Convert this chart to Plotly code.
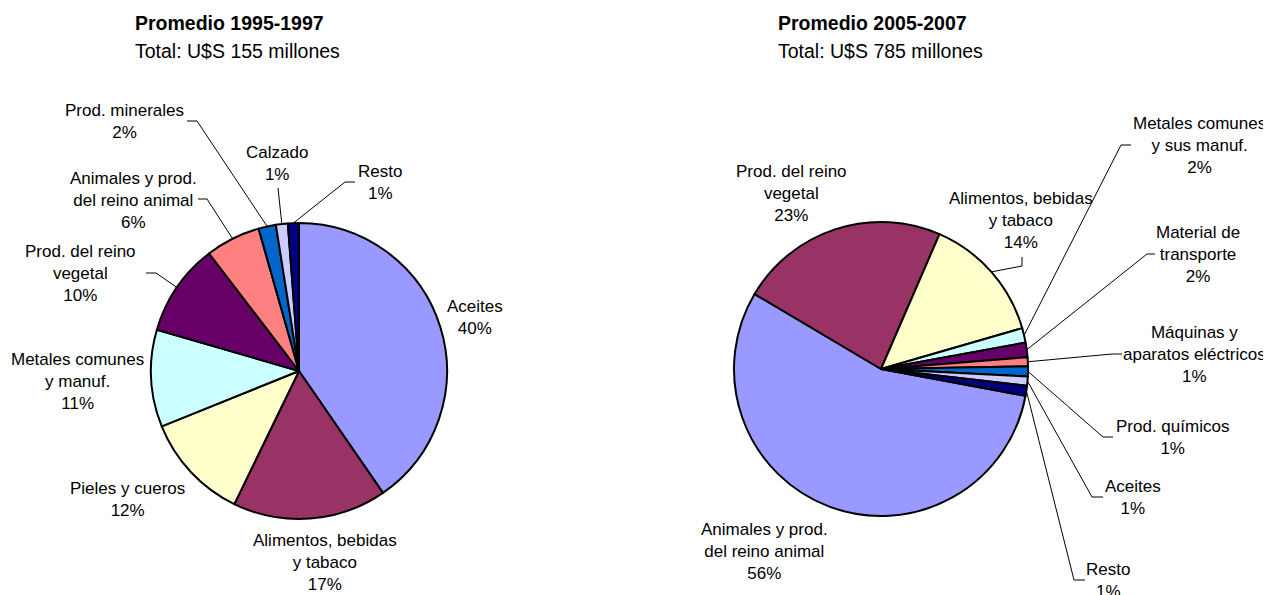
import math
import plotly.graph_objects as go

OFF = 8                      # default page margin of the html body
W, H = 1271 - OFF, 595 - OFF  # figure size in pixels

# ---------------- data ----------------
titles = ["Promedio 1995-1997", "Promedio 2005-2007"]
totals = ["Total: U$S 155 millones", "Total: U$S 785 millones"]

cats_1995 = ["Aceites", "Alimentos, bebidas<br>y tabaco", "Pieles y cueros",
             "Metales comunes<br>y manuf.", "Prod. del reino<br>vegetal",
             "Animales y prod.<br>del reino animal", "Prod. minerales", "Calzado", "Resto"]
vals_1995 = [40.4, 16.8, 11.7, 10.6, 10.1, 6.0, 1.9, 1.3, 1.2]

cats_2005 = ["Animales y prod.<br>del reino animal", "Prod. del reino<br>vegetal",
             "Alimentos, bebidas<br>y tabaco", "Metales comunes<br>y sus manuf.",
             "Material de<br>transporte", "Máquinas y<br>aparatos eléctricos",
             "Prod. químicos", "Aceites", "Resto"]
vals_2005 = [55.6, 23.0, 14.0, 1.6, 1.6, 1.0, 1.1, 1.0, 1.1]

colors = ["#9999FF", "#993366", "#FFFFCC", "#CCFFFF", "#660066",
          "#FF8080", "#0066CC", "#CCCCFF", "#000080"]

# ---------------- layout (page pixels) ----------------
pies = [
    dict(cx=299, cy=371, r=148, rot=0.0),
    dict(cx=881, cy=369, r=147, rot=100.5),
]

# label centre positions and leader elbows (start, elbow) per slice
label_pos_1995 = [(475, 317), (325, 562), (127, 499), (77, 381), (80, 273),
                  (133, 200), (124, 121), (277, 163), (380, 182)]
leaders_1995 = [None, None, None, None, [(146, 273), (156, 273)],
                [(198, 199), (207, 199)], [(187, 121), (197, 121)],
                [(278, 188), (278, 188)], [(355, 182), (345, 182)]]

label_pos_2005 = [(764, 551), (791, 193), (1021, 220), (1199, 146), (1198, 254),
                  (1194, 354), (1172, 437), (1133, 497), (1108, 580)]
leaders_2005 = [None, None, [(1022, 257), (1022, 266)], [(1131, 145), (1121, 145)],
                [(1155, 254), (1147, 254)], [(1122, 354), (1112, 354)],
                [(1113, 437), (1103, 437)], [(1103, 497), (1092, 497)],
                [(1085, 580), (1074, 580)]]

FONT = "Liberation Sans, Arial, sans-serif"


def px(x):
    return (x - OFF) / W


def py(y):
    return 1 - (y - OFF) / H


fig = go.Figure()
annotations = []
shapes = []

datasets = [
    (cats_1995, vals_1995, label_pos_1995, leaders_1995),
    (cats_2005, vals_2005, label_pos_2005, leaders_2005),
]

for k, (cats, vals, lpos, leads) in enumerate(datasets):
    p = pies[k]
    dom_x = [px(p["cx"] - p["r"]), px(p["cx"] + p["r"])]
    dom_y = [py(p["cy"] + p["r"]), py(p["cy"] - p["r"])]
    fig.add_trace(go.Pie(
        labels=[c.replace("<br>", " ") for c in cats],
        values=vals,
        sort=False,
        direction="clockwise",
        rotation=p["rot"],
        marker=dict(colors=colors, line=dict(color="black", width=2)),
        textinfo="none",
        hoverinfo="label+percent",
        domain=dict(x=dom_x, y=dom_y),
        showlegend=False,
    ))
    total = sum(vals)
    cum = 0.0
    for i, (c, v) in enumerate(zip(cats, vals)):
        pct = round(v / total * 100)
        mid = p["rot"] + 360.0 * (cum + v / 2) / total
        cum += v
        a = math.radians(mid)
        ex = p["cx"] + p["r"] * math.sin(a)
        ey = p["cy"] - p["r"] * math.cos(a)
        lx, ly = lpos[i]
        annotations.append(dict(
            x=px(lx), y=py(ly), xref="paper", yref="paper",
            text=f"{c}<br>{pct}%", showarrow=False,
            xanchor="center", yanchor="middle", align="center",
            font=dict(family=FONT, size=17, color="black"),
        ))
        if leads[i] is not None:
            (sx, sy), (bx, by) = leads[i]
            path = f"M {px(sx)},{py(sy)} L {px(bx)},{py(by)} L {px(ex)},{py(ey)}"
            shapes.append(dict(type="path", path=path, xref="paper", yref="paper",
                               line=dict(color="black", width=1)))

title_x = [133, 776]
for k in range(2):
    annotations.append(dict(
        x=px(title_x[k]), y=py(23), xref="paper", yref="paper",
        text=f"<b>{titles[k]}</b>", showarrow=False,
        xanchor="left", yanchor="middle",
        font=dict(family=FONT, size=19.5, color="black"),
    ))
    annotations.append(dict(
        x=px(title_x[k]), y=py(51), xref="paper", yref="paper",
        text=totals[k], showarrow=False,
        xanchor="left", yanchor="middle",
        font=dict(family=FONT, size=19.5, color="black"),
    ))

fig.update_layout(
    width=W, height=H, autosize=False,
    margin=dict(l=0, r=0, t=0, b=0),
    paper_bgcolor="white", plot_bgcolor="white",
    annotations=annotations, shapes=shapes,
)

fig.write_html(
    "out.html",
    post_script="document.documentElement.style.overflow='hidden';"
                "document.body.style.overflow='hidden';",
)
